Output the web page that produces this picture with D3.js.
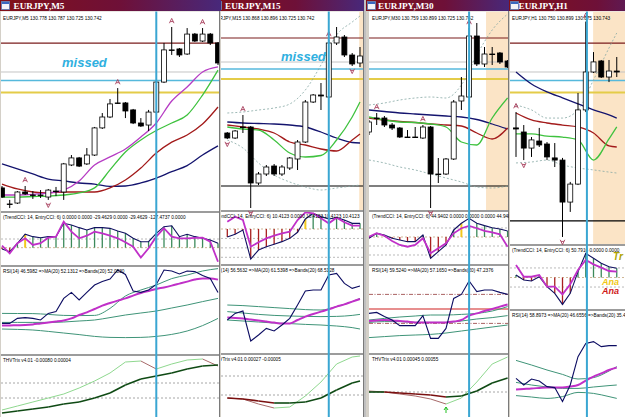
<!DOCTYPE html>
<html>
<head>
<meta charset="utf-8">
<script src="https://cdn.jsdelivr.net/npm/d3@7"></script>
<style>
  body { margin: 0; background: #c0c0c0; }
  svg { display: block; }
</style>
</head>
<body>
<svg id="chart" width="625" height="417"></svg>
<script>
// ---- horizontal objects, same prices on every chart ----
const hLinePrices = [130.90, 130.78, 130.745, 130.695, 130.16];
const hLineStroke = ["#7a1c1c", "#c4c4c4", "#56b9dc", "#e4cc48", "#000000"];
const hLineWidth = [1.2, 1, 1.5, 2, 1.2];

// ---- EURJPY M5 ----
const m5Open  = [130.297,130.23,130.234,130.28,130.2675,130.2675,130.259,130.284,130.28,130.3925,130.422,130.397,130.434,130.547,130.5925,130.651,130.651,130.622,130.5675,130.559,130.613,130.738,130.872,130.876,130.855,130.938,130.909,130.938,130.901];
const m5High  = [130.305,130.247,130.284,130.305,130.284,130.288,130.2925,130.301,130.401,130.434,130.426,130.463,130.551,130.609,130.6675,130.713,130.655,130.626,130.588,130.622,130.7425,130.901,130.9675,130.88,130.963,130.9425,130.963,130.9425,130.905];
const m5Low   = [130.255,130.213,130.23,130.2675,130.251,130.255,130.247,130.263,130.247,130.388,130.384,130.3925,130.43,130.5425,130.588,130.647,130.588,130.563,130.551,130.534,130.609,130.734,130.851,130.8425,130.851,130.905,130.905,130.8925,130.809];
const m5Close = [130.259,130.228,130.28,130.272,130.265,130.266,130.288,130.283,130.397,130.422,130.388,130.434,130.547,130.5925,130.647,130.649,130.6175,130.5675,130.555,130.613,130.738,130.872,130.87,130.851,130.938,130.909,130.938,130.901,130.8175];
const m5MaIdx = [0,2,4,6,8,10,12,14,16,18,20,22,24,26,28];
const m5Navy    = [130.397,130.376,130.355,130.334,130.326,130.3175,130.313,130.303,130.305,130.3175,130.338,130.365,130.39,130.434,130.472];
const m5Red     = [130.313,130.2925,130.28,130.276,130.28,130.28,130.28,130.297,130.33,130.38,130.4425,130.488,130.5175,130.563,130.634];
const m5Green   = [130.259,130.259,130.261,130.263,130.2675,130.276,130.297,130.372,130.447,130.497,130.536,130.5675,130.601,130.684,130.788];
const m5Magenta = [130.2675,130.2675,130.27,130.276,130.288,130.326,130.3925,130.426,130.459,130.509,130.5675,130.659,130.7175,130.78,130.801];
const m5FracUp = [3, 15, 22, 26];
const m5FracDown = [6];
const m5VLine = 20;
const m5CciTrend = [-15,-46,51,155,127,115,127,127,281,261,231,204,231,231,223,193,166,108,69,69,166,242,253,127,155,127,108,89,51];
const m5CciEntry = [23,-65,51,108,31,51,115,127,300,185,108,138,185,166,138,108,62,12,-115,-7,127,224,127,108,108,112,115,69,-162];
const m5CciYellow = [3];
const m5CciLevels = [100, 0];
const m5Rsi   = [40.3,40.3,42.8,43.2,42.8,42,45.3,46.2,52.8,55.8,52,55.8,59.5,61.2,62.5,67,64.8,56.5,55.8,57,59.8,67,66.5,65,66.5,66.2,64.2,62.8,55.8];
const m5RsiMa = [39.2,39.3,39.4,39.5,39.8,40.3,40.7,41.2,41.8,42.8,44.5,45.8,47.5,49.2,50.5,51.7,52.8,54.2,55.5,56.5,57.5,58.3,59.2,60.2,61.2,62.2,62.8,62.8,62.2];
const m5RsiUpper = [45.3,45.25,45.2,44.8,44.3,44.2,44.3,47.8,54,57,59.5,62.7,64.5,66.5,67.7];
const m5RsiMid   = [40.8,40.8,40.8,40.8,41,41.5,42,43.2,44.5,45.5,46.5,48,49.5,51.2,52.8];
const m5RsiLower = [37.5,37.3,37,36.3,35.5,34.7,33.8,33.3,33.2,33.3,33.8,34.8,36.5,39.2,42.8];
const m5TrixFast = [-0.00027,-0.00023,-0.00019,-0.00015,-0.00011,-0.00005,0.00002,0.0001,0.00021,0.00022,0.00014,0.00019,0.00023,0.00024,0.00017];
const m5TrixSlow = [-0.0003,-0.00028,-0.00026,-0.00024,-0.00021,-0.00019,-0.00015,-0.0001,-0.00002,0.00004,0.00007,0.0001,0.00014,0.00017,0.00018];
const m5TrixLevels = [0, -0.00015];
const m5Info = "EURJPY,M5  130.778 130.787 130.725 130.742";
const m5CciHeader = "(TrendCCI: 14, EntryCCI: 6)  0.0000 0.0000 -29.4629 0.0000 -29.4629 -127.4737 0.0000";
const m5RsiHeader = "RSI(14) 46.5982  =>MA(20) 52.1312  =>Bands(20) 52.0830";
const m5TrixHeader = "THVTrix v4.01 -0.00080 0.00004";

// ---- EURJPY M15 ----
const m15Open  = [130.425,130.40,130.455,130.455,130.175,130.22,130.26,130.22,130.25,130.295,130.38,130.58,130.615,130.605,130.875,130.905,130.815,130.775];
const m15High  = [130.43,130.44,130.515,130.46,130.23,130.265,130.27,130.265,130.305,130.39,130.59,130.62,130.675,130.89,130.955,130.915,130.825,130.855];
const m15Low   = [130.395,130.395,130.425,130.05,130.165,130.21,130.21,130.21,130.24,130.24,130.375,130.575,130.54,130.60,130.865,130.805,130.76,130.755];
const m15Close = [130.40,130.435,130.452,130.175,130.22,130.255,130.22,130.255,130.30,130.38,130.58,130.615,130.61,130.875,130.905,130.815,130.77,130.81];
const m15MaIdx = [0,2,4,6,8,10,12,14,16,17];
const m15Navy  = [130.48,130.475,130.4725,130.47,130.465,130.455,130.43,130.40,130.3775,130.375];
const m15Red   = [130.465,130.455,130.445,130.425,130.38,130.365,130.345,130.335,130.39,130.42];
const m15Green = [130.455,130.445,130.44,130.39,130.325,130.305,130.3125,130.39,130.505,130.58];
const m15Upper = [130.525,130.53,130.54,130.55,130.57,130.64,130.765,130.915,130.98,131.01];
const m15Lower = [130.39,130.35,130.275,130.215,130.18,130.155,130.14,130.15,130.16,130.165];
const m15FracUp = [2, 13];
const m15FracDown = [0, 3, 16];
const m15VLine = 13;
const m15Shade = 16.9;
const m15CciTrend = [-85,-56,-11,-318,-223,-188,-162,-134,-99,-35,106,166,131,106,120,95,60,60];
const m15CciEntry = [77,130,95,-188,-141,-99,-71,-46,-29,95,175,166,113,60,120,71,35,35];
const m15CciYellow = [10];
const m15CciLevels = [0, -100, -200, -300];
const m15Rsi   = [41.5,44.8,46,31,34,37.3,36,39,42.3,49,56,56.5,56.5,64,64.8,59.8,57.3,58.5];
const m15RsiMa = [42.7,42.5,42.2,41.7,41.2,40.7,40.2,39.8,39.8,41.5,43.2,44.5,45.7,46.8,48.2,49.3,50.7,52];
const m15RsiUpper = [49,48.7,48.2,47.7,47.2,46.7,46.5,48.2,50.7,52.3];
const m15RsiMid   = [45.7,45,44.3,43.8,43.5,43.3,43.2,43.3,43.8,44.3];
const m15RsiLower = [41.5,41,40.5,40,39.7,39.3,39,38.5,37.7,37];
const m15TrixFast = [-0.00022,-0.00023,-0.00028,-0.00032,-0.00031,-0.0002,-0.00006,0.00012,0.00019,0.0002];
const m15TrixSlow = [-0.00022,-0.00023,-0.00025,-0.00027,-0.00027,-0.00026,-0.00022,-0.00014,-0.00007,-0.00005];
const m15TrixLevels = [0, -0.00019];
const m15Info = "EURJPY,M15  130.868 130.896 130.725 130.742";
const m15CciHeader = "(TrendCCI: 14, EntryCCI: 6)  10.4123  0.0000  10.4123  10.4123  10.4123";
const m15RsiHeader = "RSI(14) 56.5632  =>MA(20) 61.5398  =>Bands(20) 68.5128";
const m15TrixHeader = "THVTrix v4.01 0.00027 -0.00005";

// ---- EURJPY M30 ----
const m30Open  = [130.43,130.50,130.50,130.465,130.45,130.405,130.405,130.40,130.455,130.22,130.22,130.295,130.585,130.605,130.91,130.77,130.82,130.825,130.785];
const m30High  = [130.49,130.525,130.51,130.475,130.455,130.44,130.455,130.465,130.46,130.30,130.30,130.59,130.705,130.95,130.975,130.855,130.855,130.83,130.79];
const m30Low   = [130.415,130.465,130.455,130.44,130.40,130.40,130.4025,130.395,130.05,130.175,130.215,130.29,130.54,130.60,130.76,130.755,130.765,130.77,130.75];
const m30Close = [130.48,130.4975,130.465,130.45,130.405,130.404,130.404,130.455,130.22,130.219,130.295,130.58,130.61,130.91,130.77,130.82,130.819,130.78,130.755];
const m30MaIdx = [0,2,4,6,8,10,12,14,16,18];
const m30Navy  = [130.54,130.5325,130.525,130.52,130.515,130.51,130.505,130.4925,130.47,130.445];
const m30Red   = [130.50,130.49,130.4825,130.4775,130.47,130.465,130.46,130.425,130.395,130.45];
const m30Green = [130.505,130.49,130.48,130.4775,130.47,130.455,130.38,130.365,130.50,130.60];
const m30Upper = [130.565,130.575,130.59,130.60,130.605,130.60,130.665,130.815,130.94,131.02];
const m30Lower = [130.29,130.275,130.255,130.24,130.22,130.20,130.18,130.155,130.15,130.16];
const m30FracUp = [1, 7, 13];
const m30FracDown = [8];
const m30VLine = 13;
const m30Shade = 15.2;
const m30CciTrend = [-14,41,22,-14,-33,-52,-52,22,-236,-163,-89,78,152,207,152,126,103,89,67];
const m30CciEntry = [3,41,14,-44,-89,-108,-89,-14,-181,-125,-70,41,97,122,97,67,52,30,-108];
const m30CciYellow = [12];
const m30CciLevels = [100, 0, -100, -200];
const m30Rsi   = [44.8,45.3,43.2,41.5,38.7,38.7,38.7,43.7,32.3,32.3,37.3,52.3,54.3,61,55.7,56.5,56.5,55.3,54.3];
const m30RsiMa = [41,41.3,41.5,41.3,41,40.7,40.3,40.3,40.3,40.3,40.3,40.7,41.5,43.7,44.8,46,47,48.2,49.3];
const m30RsiUpper = [41.5,42.3,43,43.5,44,44,44.3,44.8,46,48.2];
const m30RsiMid   = [40.3,40.7,40.7,40.3,40.3,40.3,41,42,42.7,43.7];
const m30RsiLower = [32.7,33.2,33.7,34,34.3,35,36,37,38,39];
const m30RsiLevels = [54.3, 47, 39.8];
const m30TrixFast = [0.00001,0,-0.00002,-0.00004,-0.00007,-0.00012,-0.00006,0.0001,0.00028,0.00035];
const m30TrixSlow = [0,0,-0.00001,-0.00002,-0.00003,-0.00005,-0.00004,0.00001,0.00009,0.00014];
const m30TrixLevels = [0];
const m30TrixArrow = [10];
const m30Info = "EURJPY,M30  130.759 130.899 130.725 130.742";
const m30CciHeader = "(TrendCCI: 14, EntryCCI: 6)  44.9402 0.0000 0.0000 0.0000 44.9402";
const m30RsiHeader = "RSI(14) 59.5240  =>MA(20) 57.1650  =>Bands(20) 47.2376";
const m30TrixHeader = "THVTrix v4.01 0.00045 0.00055";

// ---- EURJPY H1 ----
const h1Open  = [130.547,130.53,130.463,130.4925,130.48,130.422,130.413,130.238,130.313,130.622,130.78,130.826,130.759,130.784];
const h1High  = [130.613,130.559,130.509,130.547,130.488,130.484,130.422,130.322,130.6925,130.99,130.863,130.83,130.83,130.8425];
const h1Low   = [130.426,130.413,130.426,130.4675,130.413,130.384,130.0925,130.197,130.309,130.613,130.776,130.755,130.738,130.759];
const h1Close = [130.5425,130.463,130.497,130.476,130.426,130.413,130.238,130.313,130.622,130.78,130.822,130.759,130.784,130.78];
const h1MaIdx = [0,2,4,6,8,10,12,13];
const h1Navy  = [130.78,130.73,130.697,130.672,130.647,130.622,130.601,130.588];
const h1Red   = [130.609,130.58,130.5675,130.559,130.551,130.526,130.472,130.4675];
const h1Green = [130.522,130.522,130.513,130.509,130.497,130.413,130.501,130.551];
const h1Upper = [130.6425,130.622,130.588,130.588,130.622,130.747,130.88,130.9425];
const h1Lower = [130.401,130.405,130.413,130.3925,130.38,130.372,130.363,130.359];
const h1FracUp = [0, 9];
const h1FracDown = [1, 6];
const h1VLine = 9.15;
const h1Shade = 9.95;
const h1CciTrend = [26,-26,-37,8,-96,-166,-282,-166,61,253,201,149,113,96];
const h1CciEntry = [131,8,8,26,-96,-96,-176,-71,79,183,138,103,68,61];
const h1CciYellow = [];
const h1CciLevels = [100, 0, -100];
const h1Rsi   = [45.8,42.5,45.5,44.5,41.7,41.2,34.2,42.5,56.7,63.3,64.2,61.7,62.2,62.2];
const h1RsiMa = [40.2,40.5,40.8,41,41.2,41.2,41.2,41.7,42.5,44.7,46.7,48.3,50,51.2];
const h1RsiUpper = [54.8,52.5,50,47.8,45.5,46.2,49.5,51.7];
const h1RsiMid   = [43.8,42.5,41.5,40.8,40.8,41.5,42.2,42.5];
const h1RsiLower = [37.2,36.5,35.8,36.7,38.8,38.3,36.7,35.8];
const h1Info = "EURJPY,H1  130.750 130.899 130.675 130.743";
const h1CciHeader = "(TrendCCI: 14, EntryCCI: 6)  50.7916  0.0000  0.0000";
const h1RsiHeader = "RSI(14) 58.8973  =>MA(20) 46.6556  =>Bands(20) 35.4212";
const h1Labels = ["Tr", "Ana", "Ana"];

const svg = d3.select("#chart");
const defs = svg.append("defs");
const FONT = "'Liberation Sans', Arial, sans-serif";
const MA_COLORS = ["#14146e", "#a31b1b", "#3fc23f", "#b63cc4"];
let clipCount = 0;

function clipRect(x, y, w, h) {
  const id = "clip" + (clipCount++);
  defs.append("clipPath").attr("id", id).append("rect")
    .attr("x", x).attr("y", y).attr("width", w).attr("height", h);
  return `url(#${id})`;
}

function smooth(xs, ys, idx) {
  return d3.line().x((d, k) => xs(idx[k])).y(d => ys(d)).curve(d3.curveMonotoneX);
}

function header(g, w, y, txt) {
  g.append("text").attr("x", w.textX).attr("y", y)
    .attr("font-family", FONT).attr("font-size", 4.7).attr("fill", "#000").text(txt);
}

function drawWindow(w) {
  const g = svg.append("g").attr("clip-path", clipRect(w.visX0, 0, w.visX1 - w.visX0, 417));
  const x = d3.scaleLinear().domain([0, w.open.length - 1]).range(w.xRange);
  const cw = w.chartX1 - w.chartX0;

  g.append("rect").attr("x", w.left).attr("y", 0).attr("width", 700).attr("height", 417).attr("fill", "#d4d0c8");

  // title bar
  const gid = "grad-" + w.id;
  const grad = defs.append("linearGradient").attr("id", gid).attr("gradientUnits", "userSpaceOnUse")
    .attr("x1", w.left).attr("x2", w.left + w.titleW).attr("y1", 0).attr("y2", 0);
  grad.append("stop").attr("offset", 0).attr("stop-color", "#821018");
  grad.append("stop").attr("offset", 0.55).attr("stop-color", "#6e1038");
  grad.append("stop").attr("offset", 1).attr("stop-color", "#48287a");
  g.append("rect").attr("x", w.left).attr("y", 0).attr("width", 700).attr("height", 11).attr("fill", `url(#${gid})`);
  g.append("rect").attr("x", w.left + 1.5).attr("y", 1.5).attr("width", 8).attr("height", 8)
    .attr("fill", "#f4f4f8").attr("stroke", "#5a78b0").attr("stroke-width", 0.8);
  g.append("rect").attr("x", w.left + 2).attr("y", 2).attr("width", 7).attr("height", 2).attr("fill", "#3a68c0");
  g.append("text").attr("x", w.left + w.titleX).attr("y", 9.2).attr("fill", "#fff")
    .attr("font-family", "'Liberation Serif', 'Times New Roman', serif").attr("font-weight", "bold")
    .attr("font-size", 9.2).text(w.title);

  // panel backgrounds and separators
  const panels = [w.main, w.cci, w.rsi].concat(w.trix ? [w.trix] : []);
  panels.forEach((p, k) => {
    const top = k === 0 ? 11.5 : p.top;
    g.append("rect").attr("x", w.chartX0).attr("y", top).attr("width", cw).attr("height", p.bottom - top).attr("fill", "#fff");
    if (k > 0) {
      g.append("rect").attr("x", w.chartX0).attr("y", p.top - 2).attr("width", cw).attr("height", 2).attr("fill", "#9c9c9c");
    }
  });
  g.append("line").attr("x1", w.chartX1 + 0.5).attr("x2", w.chartX1 + 0.5).attr("y1", 11).attr("y2", 417)
    .attr("stroke", "#7a7a7a").attr("stroke-width", 1);

  // ---- main chart ----
  const ym = d3.scaleLinear().domain([w.main.lo, w.main.hi]).range([w.main.bottom, w.main.top]);
  const mg = g.append("g").attr("clip-path", clipRect(w.chartX0, 11.5, cw, w.main.bottom - 11.5));
  if (w.shade != null) {
    mg.append("rect").attr("x", x(w.shade)).attr("y", 11.5).attr("width", 200).attr("height", w.main.bottom - 11.5)
      .attr("fill", "#fbe4c6");
  }
  hLinePrices.forEach((p, k) => {
    mg.append("line").attr("x1", w.chartX0).attr("x2", w.chartX1).attr("y1", ym(p)).attr("y2", ym(p))
      .attr("stroke", hLineStroke[k]).attr("stroke-width", hLineWidth[k]);
  });
  if (w.upper) {
    [w.upper, w.lower].forEach(b => {
      mg.append("path").attr("d", smooth(x, ym, w.maIdx)(b)).attr("fill", "none")
        .attr("stroke", "#86a8a4").attr("stroke-width", 0.8).attr("stroke-dasharray", "2,2");
    });
  }
  w.mas.forEach((m, k) => {
    mg.append("path").attr("d", smooth(x, ym, w.maIdx)(m)).attr("fill", "none")
      .attr("stroke", MA_COLORS[k]).attr("stroke-width", 1.3);
  });
  const idx = d3.range(w.open.length);
  mg.selectAll(".wick").data(idx).join("line")
    .attr("x1", i => x(i)).attr("x2", i => x(i))
    .attr("y1", i => ym(w.high[i])).attr("y2", i => ym(w.low[i]))
    .attr("stroke", "#000").attr("stroke-width", 1);
  mg.selectAll(".body").data(idx).join("rect")
    .attr("x", i => x(i) - 2.5)
    .attr("y", i => ym(Math.max(w.open[i], w.close[i])))
    .attr("width", 5)
    .attr("height", i => Math.max(Math.abs(ym(w.open[i]) - ym(w.close[i])), 0.6))
    .attr("fill", i => w.close[i] >= w.open[i] ? "#fff" : "#000")
    .attr("stroke", "#000").attr("stroke-width", 0.8);

  // fractal markers
  g.selectAll(".fu").data(w.fracUp).join("path")
    .attr("transform", i => `translate(${x(i)},${ym(w.high[i]) - 6})`)
    .attr("d", "M-2.3,2.2L0,-2.6L2.3,2.2M-1.4,0.6L1.4,0.6")
    .attr("fill", "none").attr("stroke", "#a8405e").attr("stroke-width", 0.9);
  g.selectAll(".fd").data(w.fracDown).join("path")
    .attr("transform", i => `translate(${x(i)},${ym(w.low[i]) + 5})`)
    .attr("d", "M-2.3,-2.2L0,2.6L2.3,-2.2M-1.4,-0.6L1.4,-0.6")
    .attr("fill", "none").attr("stroke", "#a8405e").attr("stroke-width", 0.9);

  g.append("text").attr("x", w.textX).attr("y", 19.8)
    .attr("font-family", FONT).attr("font-size", 4.7).attr("fill", "#000").text(w.info);
  if (w.missed) {
    g.append("text").attr("x", w.missed[0]).attr("y", w.missed[1])
      .attr("font-family", FONT).attr("font-weight", "bold").attr("font-style", "italic")
      .attr("font-size", 13).attr("fill", "#2fb0e0").text("missed");
  }

  // ---- TrendCCI ----
  const c = w.cci;
  const yc = d3.scaleLinear().domain([c.lo, c.hi]).range([c.bottom, c.top]);
  const cg = g.append("g").attr("clip-path", clipRect(w.chartX0, c.top, cw, c.bottom - c.top));
  c.levels.forEach(v => {
    cg.append("line").attr("x1", w.chartX0).attr("x2", w.chartX1).attr("y1", yc(v)).attr("y2", yc(v))
      .attr("stroke", v === 0 ? "#c4a47c" : "#a8a8a8").attr("stroke-width", 0.8).attr("stroke-dasharray", "2,2");
  });
  cg.selectAll(".bar").data(idx).join("line")
    .attr("x1", i => x(i)).attr("x2", i => x(i))
    .attr("y1", yc(0)).attr("y2", i => yc(c.trend[i]))
    .attr("stroke", i => c.yellow.includes(i) ? "#f2c81e" : (c.trend[i] >= 0 ? "#3c8a5a" : "#a82020"))
    .attr("stroke-width", i => c.yellow.includes(i) ? 2 : 1.3);
  cg.append("path").attr("d", d3.line().x((d, i) => x(i)).y(d => yc(d))(c.trend))
    .attr("fill", "none").attr("stroke", "#101060").attr("stroke-width", 1.1);
  cg.append("path").attr("d", d3.line().x((d, i) => x(i)).y(d => yc(d))(c.entry))
    .attr("fill", "none").attr("stroke", "#c030c8").attr("stroke-width", 1.8);
  header(g, w, c.top + 5.5, c.header);

  // ---- RSI with MA and bands ----
  const r = w.rsi;
  const yr = d3.scaleLinear().domain([r.lo, r.hi]).range([r.bottom, r.top]);
  const rg = g.append("g").attr("clip-path", clipRect(w.chartX0, r.top, cw, r.bottom - r.top));
  (r.levels || []).forEach((v, k) => {
    const mid = k === 1;
    rg.append("line").attr("x1", w.chartX0).attr("x2", w.chartX1).attr("y1", yr(v)).attr("y2", yr(v))
      .attr("stroke", mid ? "#d02020" : "#a05050").attr("stroke-width", mid ? 1.2 : 0.9)
      .attr("stroke-dasharray", mid ? null : "4,1.5,1,1.5");
  });
  [r.upper, r.mid, r.lower].forEach(b => {
    rg.append("path").attr("d", smooth(x, yr, w.maIdx)(b)).attr("fill", "none")
      .attr("stroke", "#3f9478").attr("stroke-width", 1);
  });
  rg.append("path").attr("d", d3.line().x((d, i) => x(i)).y(d => yr(d)).curve(d3.curveMonotoneX)(r.ma))
    .attr("fill", "none").attr("stroke", "#c030c8").attr("stroke-width", 2);
  rg.append("path").attr("d", d3.line().x((d, i) => x(i)).y(d => yr(d))(r.rsi))
    .attr("fill", "none").attr("stroke", "#0c0c62").attr("stroke-width", 1.1);
  header(g, w, r.top + 5.5, r.header);

  // ---- THVTrix ----
  if (w.trix) {
    const t = w.trix;
    const yt = d3.scaleLinear().domain([t.lo, t.hi]).range([t.bottom, t.top]);
    const tg = g.append("g").attr("clip-path", clipRect(w.chartX0, t.top, cw, t.bottom - t.top));
    t.levels.forEach(v => {
      tg.append("line").attr("x1", w.chartX0).attr("x2", w.chartX1).attr("y1", yt(v)).attr("y2", yt(v))
        .attr("stroke", "#909090").attr("stroke-width", 0.8).attr("stroke-dasharray", "2,2");
    });
    const segs = (vals, up, down, sw) => {
      for (let k = 1; k < vals.length; k++) {
        tg.append("path")
          .attr("d", smooth(x, yt, w.maIdx.slice(k - 1, k + 1))(vals.slice(k - 1, k + 1)))
          .attr("fill", "none").attr("stroke", vals[k] >= vals[k - 1] ? up : down).attr("stroke-width", sw);
      }
    };
    segs(t.fast, "#8fd88f", "#a86a6a", 1);
    segs(t.slow, "#0f4a14", "#7a1010", 1.6);
    (t.arrow || []).forEach(i => {
      const k = w.maIdx.indexOf(i);
      tg.append("path").attr("transform", `translate(${x(i)},${yt(t.fast[k]) + 6})`)
        .attr("d", "M0,-3L-2,0M0,-3L2,0M0,-3L0,3").attr("fill", "none")
        .attr("stroke", "#20c020").attr("stroke-width", 1);
    });
    header(g, w, t.top + 5.5, t.header);
  }

  // vertical time line through all sub-windows
  g.append("line").attr("x1", x(w.vIdx)).attr("x2", x(w.vIdx)).attr("y1", 11.5).attr("y2", 417)
    .attr("stroke", "#3aa6d2").attr("stroke-width", 2);

  if (w.labels) {
    const lab = g.append("g").attr("font-family", FONT).attr("font-weight", "bold").attr("font-style", "italic");
    lab.append("text").attr("x", 613).attr("y", 260).attr("font-size", 10).attr("fill", "#b0a400").text(w.labels[0]);
    lab.append("text").attr("x", 602).attr("y", 285).attr("font-size", 9).attr("fill", "#f0c814").text(w.labels[1]);
    lab.append("text").attr("x", 602).attr("y", 293.5).attr("font-size", 9).attr("fill", "#d01818").text(w.labels[2]);
  }
}

const windows = [
  {
    id: "m5", title: "EURJPY,M5", left: 0, titleW: 220, visX0: 0, visX1: 221, chartX0: 1, chartX1: 219,
    titleX: 13.5, textX: 3, xRange: [2, 218],
    open: m5Open, high: m5High, low: m5Low, close: m5Close,
    maIdx: m5MaIdx, mas: [m5Navy, m5Red, m5Green, m5Magenta],
    fracUp: m5FracUp, fracDown: m5FracDown, vIdx: m5VLine, shade: null,
    info: m5Info, missed: [62, 67],
    main: { top: 13, bottom: 211, lo: 130.2008, hi: 131.0258 },
    cci: { top: 213, bottom: 265, lo: -200, hi: 400, levels: m5CciLevels, trend: m5CciTrend, entry: m5CciEntry, yellow: m5CciYellow, header: m5CciHeader },
    rsi: { top: 267, bottom: 354, lo: 25, hi: 68.5, rsi: m5Rsi, ma: m5RsiMa, upper: m5RsiUpper, mid: m5RsiMid, lower: m5RsiLower, header: m5RsiHeader },
    trix: { top: 356, bottom: 417, lo: -0.00034, hi: 0.00027, levels: m5TrixLevels, fast: m5TrixFast, slow: m5TrixSlow, header: m5TrixHeader }
  },
  {
    id: "m15", title: "EURJPY,M15", left: 212, titleW: 152, visX0: 221, visX1: 364, chartX0: 213, chartX1: 363,
    titleX: 13, textX: 213, xRange: [227.3, 360],
    open: m15Open, high: m15High, low: m15Low, close: m15Close,
    maIdx: m15MaIdx, mas: [m15Navy, m15Red, m15Green], upper: m15Upper, lower: m15Lower,
    fracUp: m15FracUp, fracDown: m15FracDown, vIdx: m15VLine, shade: m15Shade,
    info: m15Info, missed: [281, 61],
    main: { top: 13, bottom: 210, lo: 130.04, hi: 131.025 },
    cci: { top: 212, bottom: 264, lo: -371, hi: 180, levels: m15CciLevels, trend: m15CciTrend, entry: m15CciEntry, yellow: m15CciYellow, header: m15CciHeader },
    rsi: { top: 266, bottom: 353, lo: 25, hi: 68.5, rsi: m15Rsi, ma: m15RsiMa, upper: m15RsiUpper, mid: m15RsiMid, lower: m15RsiLower, header: m15RsiHeader },
    trix: { top: 355, bottom: 417, lo: -0.00041, hi: 0.00021, levels: m15TrixLevels, fast: m15TrixFast, slow: m15TrixSlow, header: m15TrixHeader }
  },
  {
    id: "m30", title: "EURJPY,M30", left: 366, titleW: 143, visX0: 364, visX1: 509, chartX0: 369, chartX1: 508,
    titleX: 12, textX: 372, xRange: [369, 507.6],
    open: m30Open, high: m30High, low: m30Low, close: m30Close,
    maIdx: m30MaIdx, mas: [m30Navy, m30Red, m30Green], upper: m30Upper, lower: m30Lower,
    fracUp: m30FracUp, fracDown: m30FracDown, vIdx: m30VLine, shade: m30Shade,
    info: m30Info, missed: null,
    main: { top: 13, bottom: 210, lo: 130.04, hi: 131.025 },
    cci: { top: 212, bottom: 264, lo: -300, hi: 277.5, levels: m30CciLevels, trend: m30CciTrend, entry: m30CciEntry, yellow: m30CciYellow, header: m30CciHeader },
    rsi: { top: 266, bottom: 353, lo: 25, hi: 68.5, rsi: m30Rsi, ma: m30RsiMa, upper: m30RsiUpper, mid: m30RsiMid, lower: m30RsiLower, levels: m30RsiLevels, header: m30RsiHeader },
    trix: { top: 355, bottom: 417, lo: -0.00025, hi: 0.00037, levels: m30TrixLevels, fast: m30TrixFast, slow: m30TrixSlow, arrow: m30TrixArrow, header: m30TrixHeader }
  },
  {
    id: "h1", title: "EURJPY,H1", left: 509, titleW: 160, visX0: 509, visX1: 625, chartX0: 510, chartX1: 640,
    titleX: 9.5, textX: 512, xRange: [516, 616.75],
    open: h1Open, high: h1High, low: h1Low, close: h1Close,
    maIdx: h1MaIdx, mas: [h1Navy, h1Red, h1Green], upper: h1Upper, lower: h1Lower,
    fracUp: h1FracUp, fracDown: h1FracDown, vIdx: h1VLine, shade: h1Shade,
    info: h1Info, missed: null, labels: h1Labels,
    main: { top: 13, bottom: 244, lo: 130.0633, hi: 131.0258 },
    cci: { top: 246, bottom: 309, lo: -330, hi: 330, levels: h1CciLevels, trend: h1CciTrend, entry: h1CciEntry, yellow: h1CciYellow, header: h1CciHeader },
    rsi: { top: 311, bottom: 420, lo: 25, hi: 79.5, rsi: h1Rsi, ma: h1RsiMa, upper: h1RsiUpper, mid: h1RsiMid, lower: h1RsiLower, header: h1RsiHeader },
    trix: null
  }
];

windows.forEach(drawWindow);
</script>
</body>
</html>
